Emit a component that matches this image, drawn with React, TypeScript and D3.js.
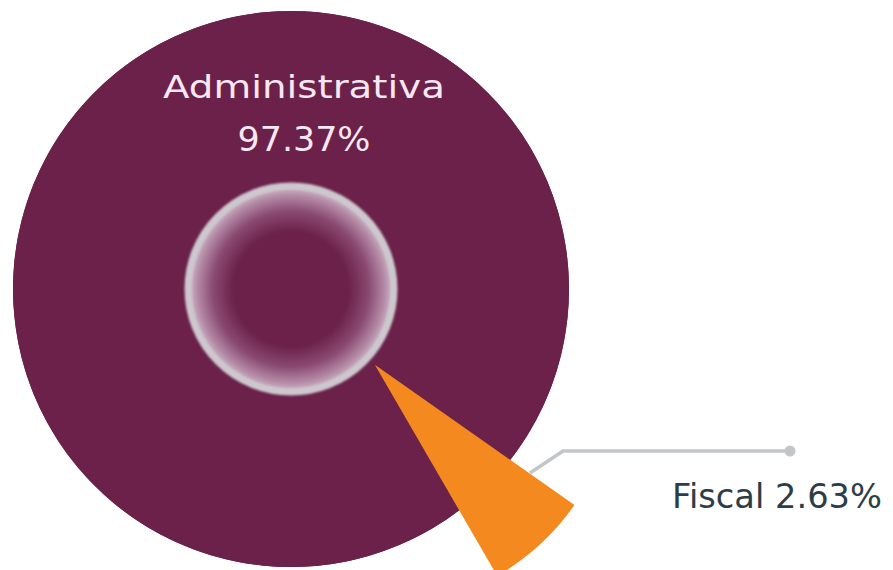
import React, { useEffect, useRef } from "react";
import * as d3 from "d3";

const categories = ["Administrativa", "Fiscal"];
const values = [97.37, 2.63];
const colors = ["#6b2149", "#f48a1f"];

const W = 893;
const H = 570;

export default function App() {
  const ref = useRef<SVGSVGElement | null>(null);

  useEffect(() => {
    document.body.style.margin = "0";
    const svg = d3.select(ref.current);
    svg.selectAll("*").remove();

    const cx = 291;
    const cy = 289;
    const R = 278;
    const deg = Math.PI / 180;

    const defs = svg.append("defs");
    const grad = defs
      .append("radialGradient")
      .attr("id", "holeGrad")
      .attr("cx", "50%")
      .attr("cy", "50%")
      .attr("r", "50%");
    grad.append("stop").attr("offset", "0.55").attr("stop-color", colors[0]);
    grad.append("stop").attr("offset", "0.75").attr("stop-color", "#8a4a72");
    grad.append("stop").attr("offset", "0.9").attr("stop-color", "#b48aa6");
    grad.append("stop").attr("offset", "1").attr("stop-color", "#d2c4cf");
    const blur = defs.append("filter").attr("id", "soft");
    blur.append("feGaussianBlur").attr("stdDeviation", 1.2);

    // pie layout: Fiscal slice centred at ~136.8deg (d3 angle)
    const fiscalMid = 137.5 * deg;
    const fiscalSpan = (values[1] / d3.sum(values)) * 2 * Math.PI;
    const start = fiscalMid + fiscalSpan / 2;
    const pie = d3
      .pie<number>()
      .sort(null)
      .value((d) => d)
      .startAngle(start)
      .endAngle(start + 2 * Math.PI);
    const arcs = pie(values);

    const g = svg.append("g").attr("transform", `translate(${cx},${cy})`);

    // base disc (covers the whole pie)
    g.append("circle").attr("r", R).attr("fill", colors[0]);
    const arcMain = d3.arc<d3.PieArcDatum<number>>().innerRadius(0).outerRadius(R);
    g.append("path").attr("d", arcMain(arcs[0]) as string).attr("fill", colors[0]);

    // hole with gradient and ring
    g.append("circle").attr("r", 104).attr("fill", "url(#holeGrad)");
    g.append("circle")
      .attr("r", 103)
      .attr("fill", "none")
      .attr("stroke", "#cdc8ce")
      .attr("stroke-width", 7)
      .attr("filter", "url(#soft)");

    // leader line (drawn under the exploded slice)
    const lineColor = "#c3c6c9";
    svg
      .append("path")
      .attr("d", d3.line()([[530, 473], [563, 451], [790, 451]]) as string)
      .attr("fill", "none")
      .attr("stroke", lineColor)
      .attr("stroke-width", 3.5);
    svg.append("circle").attr("cx", 790).attr("cy", 451).attr("r", 5.5).attr("fill", lineColor);

    // exploded, emphasised Fiscal slice
    const emphasis = 2.62;
    const a = arcs[1];
    const mid = (a.startAngle + a.endAngle) / 2;
    const half = ((a.endAngle - a.startAngle) * emphasis) / 2;
    const offR = 113;
    const offAng = 132.1 * deg;
    const ox = cx + offR * Math.sin(offAng);
    const oy = cy - offR * Math.cos(offAng);
    const arcFiscal = d3.arc();
    svg
      .append("path")
      .attr("transform", `translate(${ox},${oy})`)
      .attr(
        "d",
        arcFiscal({
          innerRadius: 0,
          outerRadius: 244,
          startAngle: mid - half,
          endAngle: mid + half,
        } as any) as string
      )
      .attr("fill", colors[1]);

    // labels
    const font = "'DejaVu Sans', sans-serif";
    svg
      .append("text")
      .attr("x", 304)
      .attr("y", 98)
      .attr("text-anchor", "middle")
      .attr("font-family", font)
      .attr("font-size", 32)
      .attr("fill", "#f6e8f1")
      .attr("textLength", 282)
      .attr("lengthAdjust", "spacingAndGlyphs")
      .text(categories[0]);
    svg
      .append("text")
      .attr("x", 304)
      .attr("y", 151)
      .attr("text-anchor", "middle")
      .attr("font-family", font)
      .attr("font-size", 34)
      .attr("fill", "#f6e8f1")
      .attr("textLength", 133)
      .attr("lengthAdjust", "spacingAndGlyphs")
      .text(`${values[0].toFixed(2)}%`);
    svg
      .append("text")
      .attr("x", 672)
      .attr("y", 508)
      .attr("font-family", font)
      .attr("font-size", 34)
      .attr("fill", "#2d3d47")
      .attr("textLength", 210)
      .attr("lengthAdjust", "spacingAndGlyphs")
      .text(`${categories[1]} ${values[1].toFixed(2)}%`);
  }, []);

  return (
    <svg
      ref={ref}
      width={W}
      height={H}
      style={{ display: "block", position: "absolute", left: 0, top: 0, background: "#fff" }}
    />
  );
}
